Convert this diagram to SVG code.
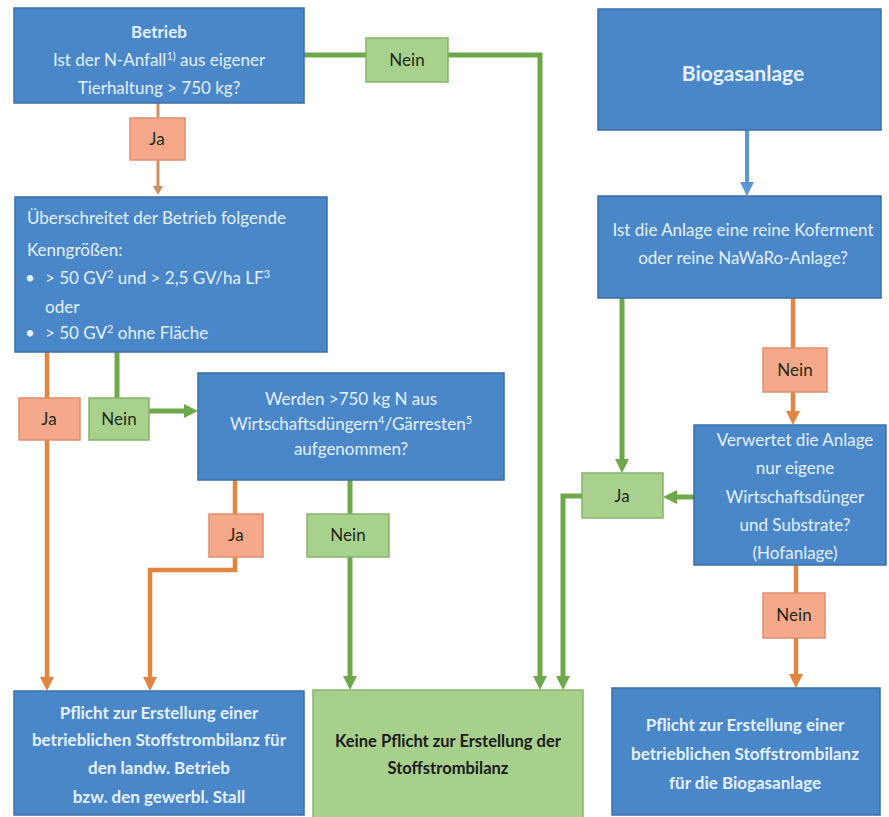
<svg xmlns="http://www.w3.org/2000/svg" width="889" height="817" viewBox="0 0 889 817">
<style>
  .box{fill:#4a87c9;stroke:#3b6fa6;stroke-width:1.5}
  .keine{fill:#a8d08d;stroke:#8ab56e;stroke-width:1.5}
  .lg{fill:#a9d18e;stroke:#86b36a;stroke-width:1.5}
  .lo{fill:#f5a88a;stroke:#de8e6e;stroke-width:1.5}
  .t{font-family:Lato,"Open Sans","Liberation Sans",sans-serif;font-size:17px;fill:#e3f1fb}
  .c{text-anchor:middle}
  .b{font-weight:bold}
  .lt{font-family:Lato,"Open Sans","Liberation Sans",sans-serif;font-size:17px;fill:#1f2a18;text-anchor:middle}
  .kt{font-family:Lato,"Open Sans","Liberation Sans",sans-serif;font-size:16.5px;font-weight:bold;fill:#1a1a1a;text-anchor:middle}
  .sup{font-size:11px}
  .g{fill:none;stroke:#6ea84a;stroke-width:5}
  .o{fill:none;stroke:#e2853f;stroke-width:4.5}
  .o2{fill:none;stroke:#cf9062;stroke-width:3}
  .bl{fill:none;stroke:#5b97d2;stroke-width:4}
</style>
<defs>
  <marker id="ag" markerUnits="userSpaceOnUse" markerWidth="18" markerHeight="18" viewBox="0 0 18 18" refX="4" refY="9" orient="auto"><path d="M0,2 L14,9 L0,16 Z" fill="#6ea84a"/></marker>
  <marker id="ao" markerUnits="userSpaceOnUse" markerWidth="18" markerHeight="18" viewBox="0 0 18 18" refX="4" refY="9" orient="auto"><path d="M0,2 L14,9 L0,16 Z" fill="#e2853f"/></marker>
  <marker id="ao2" markerUnits="userSpaceOnUse" markerWidth="14" markerHeight="14" viewBox="0 0 14 14" refX="3" refY="7" orient="auto"><path d="M0,2 L9,7 L0,12 Z" fill="#cf9062"/></marker>
  <marker id="ab" markerUnits="userSpaceOnUse" markerWidth="18" markerHeight="18" viewBox="0 0 18 18" refX="4" refY="9" orient="auto"><path d="M0,2 L14,9 L0,16 Z" fill="#5b97d2"/></marker>
</defs>
<rect width="889" height="817" fill="#ffffff"/>

<g id="connectors">
  <path class="g" d="M304,55 H366"/>
  <path class="g" d="M448,55 H540 V680" marker-end="url(#ag)"/>
  <path class="o2" d="M158,103 V118"/>
  <path class="o2" d="M158,160 V189" marker-end="url(#ao2)"/>
  <path class="o" d="M47,352 V398"/>
  <path class="o" d="M47,440 V681" marker-end="url(#ao)"/>
  <path class="g" d="M117,352 V398"/>
  <path class="g" d="M149,411 H188" marker-end="url(#ag)"/>
  <path class="o" d="M235,480 V514"/>
  <path class="o" d="M235,557 V570 H150 V681" marker-end="url(#ao)"/>
  <path class="g" d="M350,480 V514"/>
  <path class="g" d="M350,557 V680" marker-end="url(#ag)"/>
  <path class="bl" d="M747,130 V186" marker-end="url(#ab)"/>
  <path class="o" d="M793,298 V348"/>
  <path class="o" d="M793,392 V415" marker-end="url(#ao)"/>
  <path class="g" d="M622,298 V463" marker-end="url(#ag)"/>
  <path class="g" d="M694,497 H673" marker-end="url(#ag)"/>
  <path class="g" d="M582,496 H563 V680" marker-end="url(#ag)"/>
  <path class="o" d="M796,565 V593"/>
  <path class="o" d="M796,638 V678" marker-end="url(#ao)"/>
</g>

<g id="betrieb">
  <rect class="box" x="14" y="8" width="290" height="95"/>
  <text class="t c b" x="159" y="38">Betrieb</text>
  <text class="t c" x="159" y="66">Ist der N-Anfall<tspan class="sup" dy="-6">1)</tspan><tspan dy="6"> aus eigener</tspan></text>
  <text class="t c" x="159" y="94">Tierhaltung &gt; 750  kg?</text>
</g>

<g id="nein-top">
  <rect class="lg" x="366" y="38" width="82" height="44"/>
  <text class="lt" x="407" y="66">Nein</text>
</g>

<g id="ja-top">
  <rect class="lo" x="130" y="118" width="55" height="42"/>
  <text class="lt" x="157" y="145">Ja</text>
</g>

<g id="kenngroessen">
  <rect class="box" x="15" y="197" width="312" height="155"/>
  <text class="t" x="27" y="224">Überschreitet der Betrieb folgende</text>
  <text class="t" x="27" y="256">Kenngrößen:</text>
  <text class="t" x="25" y="284">•</text>
  <text class="t" x="45" y="284">&gt; 50 GV<tspan class="sup" dy="-6">2</tspan><tspan dy="6">  und &gt; 2,5 GV/ha LF</tspan><tspan class="sup" dy="-6">3</tspan></text>
  <text class="t" x="45" y="313">oder</text>
  <text class="t" x="25" y="339">•</text>
  <text class="t" x="45" y="339">&gt; 50 GV<tspan class="sup" dy="-6">2</tspan><tspan dy="6"> ohne Fläche</tspan></text>
</g>

<g id="ja-left">
  <rect class="lo" x="19" y="398" width="61" height="42"/>
  <text class="lt" x="49" y="425">Ja</text>
</g>

<g id="nein-left">
  <rect class="lg" x="89" y="398" width="60" height="42"/>
  <text class="lt" x="119" y="425">Nein</text>
</g>

<g id="werden">
  <rect class="box" x="198" y="373" width="306" height="107"/>
  <text class="t c" x="351" y="405">Werden &gt;750  kg N aus</text>
  <text class="t c" x="351" y="430">Wirtschaftsdüngern<tspan class="sup" dy="-6">4</tspan><tspan dy="6">/Gärresten</tspan><tspan class="sup" dy="-6">5</tspan></text>
  <text class="t c" x="351" y="455">aufgenommen?</text>
</g>

<g id="ja-mid">
  <rect class="lo" x="209" y="514" width="54" height="43"/>
  <text class="lt" x="236" y="541">Ja</text>
</g>

<g id="nein-mid">
  <rect class="lg" x="307" y="514" width="82" height="43"/>
  <text class="lt" x="348" y="541">Nein</text>
</g>

<g id="pflicht-betrieb">
  <rect class="box" x="14" y="691" width="290" height="124"/>
  <text class="t c b" x="159" y="719">Pflicht zur Erstellung einer</text>
  <text class="t c b" x="159" y="746">betrieblichen Stoffstrombilanz für</text>
  <text class="t c b" x="159" y="774">den landw. Betrieb</text>
  <text class="t c b" x="159" y="803">bzw. den gewerbl. Stall</text>
</g>

<g id="keine-pflicht">
  <rect class="keine" x="313" y="690" width="270" height="130"/>
  <text class="kt" x="448" y="747">Keine Pflicht zur Erstellung der</text>
  <text class="kt" x="448" y="774">Stoffstrombilanz</text>
</g>

<g id="biogasanlage">
  <rect class="box" x="598" y="9" width="283" height="121"/>
  <text class="t c b" x="743" y="81" style="font-size:21px">Biogasanlage</text>
</g>

<g id="kofermente">
  <rect class="box" x="598" y="196" width="283" height="102"/>
  <text class="t c" x="743" y="236">Ist die Anlage eine reine Koferment</text>
  <text class="t c" x="743" y="264">oder reine NaWaRo-Anlage?</text>
</g>

<g id="nein-right-top">
  <rect class="lo" x="763" y="348" width="64" height="44"/>
  <text class="lt" x="795" y="376">Nein</text>
</g>

<g id="ja-right">
  <rect class="lg" x="582" y="473" width="81" height="45"/>
  <text class="lt" x="622" y="502">Ja</text>
</g>

<g id="hofanlage">
  <rect class="box" x="694" y="425" width="192" height="140"/>
  <text class="t c" x="795" y="446">Verwertet die Anlage</text>
  <text class="t c" x="795" y="474">nur eigene</text>
  <text class="t c" x="795" y="503">Wirtschaftsdünger</text>
  <text class="t c" x="795" y="531">und Substrate?</text>
  <text class="t c" x="795" y="559">(Hofanlage)</text>
</g>

<g id="nein-right-bottom">
  <rect class="lo" x="763" y="593" width="62" height="45"/>
  <text class="lt" x="794" y="621">Nein</text>
</g>

<g id="pflicht-biogas">
  <rect class="box" x="612" y="688" width="268" height="127"/>
  <text class="t c b" x="745" y="731">Pflicht zur Erstellung einer</text>
  <text class="t c b" x="745" y="760">betrieblichen Stoffstrombilanz</text>
  <text class="t c b" x="745" y="789">für die Biogasanlage</text>
</g>
</svg>
